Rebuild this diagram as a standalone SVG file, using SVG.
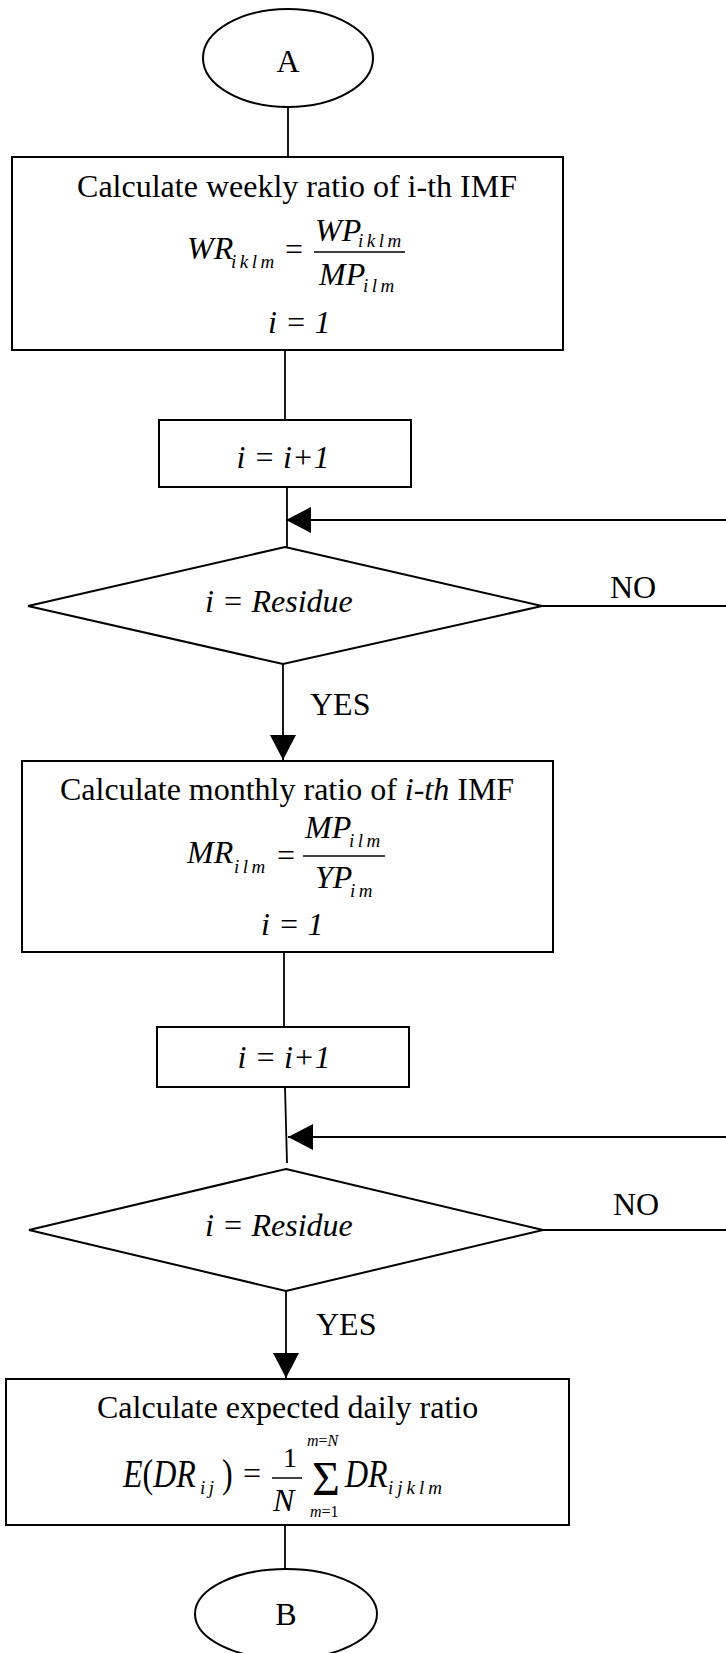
<svg xmlns="http://www.w3.org/2000/svg" width="726" height="1653" viewBox="0 0 726 1653">
<defs>
<style>
.t{font-family:"Liberation Serif","Times New Roman",serif;font-size:32px;fill:#000}
.i{font-style:italic}
.s{font-family:"Liberation Serif","Times New Roman",serif;font-size:19px;font-style:italic;letter-spacing:3.5px;fill:#000}
.ss{font-family:"Liberation Serif","Times New Roman",serif;font-size:16px;fill:#000}
.box{fill:#fff;stroke:#000;stroke-width:2}
.ln{fill:none;stroke:#000;stroke-width:1.8}
.fl{stroke:#000;stroke-width:1.5}
</style>
<marker id="ah" markerUnits="userSpaceOnUse" viewBox="0 0 25 26" refX="25" refY="13" markerWidth="25" markerHeight="26" orient="auto">
<path d="M0,0 L25,13 L0,26 Z" fill="#000"/>
</marker>
</defs>
<rect width="726" height="1653" fill="#fff"/>

<g id="connectors">
<path class="ln" d="M288,107 V157"/>
<path class="ln" d="M285,350 V420"/>
<path class="ln" d="M287,487 V547"/>
<path class="ln" d="M726,520 H286" marker-end="url(#ah)"/>
<path class="ln" d="M542,606 H726"/>
<path class="ln" d="M283,664 V760" marker-end="url(#ah)"/>
<path class="ln" d="M284,952 V1027"/>
<path class="ln" d="M285,1087 L287,1163"/>
<path class="ln" d="M726,1137 H288" marker-end="url(#ah)"/>
<path class="ln" d="M543,1230 H726"/>
<path class="ln" d="M286,1291 V1378" marker-end="url(#ah)"/>
<path class="ln" d="M285,1525 V1569"/>
<text class="t" x="610" y="598">NO</text>
<text class="t" x="310" y="715">YES</text>
<text class="t" x="613" y="1215">NO</text>
<text class="t" x="316" y="1335">YES</text>
</g>

<g id="startA">
<ellipse cx="288" cy="58" rx="85" ry="49" class="box"/>
<text class="t" x="288" y="72" text-anchor="middle">A</text>
</g>

<g id="weeklyRatio">
<rect x="12" y="157" width="551" height="193" class="box"/>
<text class="t" x="297" y="197" text-anchor="middle">Calculate weekly ratio of i-th IMF</text>
<text class="t i" x="187" y="259">WR</text>
<text class="s" x="231" y="268">iklm</text>
<text class="t" x="285" y="260">=</text>
<line class="fl" x1="314" y1="252" x2="405" y2="252"/>
<text class="t i" x="315" y="241">WP</text>
<text class="s" x="358" y="247">iklm</text>
<text class="t i" x="319" y="285">MP</text>
<text class="s" x="363" y="292">ilm</text>
<text class="t i" x="268" y="333">i = 1</text>
</g>

<g id="increment1">
<rect x="159" y="420" width="252" height="67" class="box"/>
<text class="t i" x="283" y="468" text-anchor="middle">i = i+1</text>
</g>

<g id="decision1">
<polygon points="285,547 542,606 283,664 28,606" class="box"/>
<text class="t i" x="205" y="612">i = Residue</text>
</g>

<g id="monthlyRatio">
<rect x="22" y="761" width="531" height="191" class="box"/>
<text class="t" x="60" y="800">Calculate monthly ratio of <tspan class="i">i-th</tspan> IMF</text>
<text class="t i" x="187" y="863">MR</text>
<text class="s" x="234" y="873">ilm</text>
<text class="t" x="277" y="866">=</text>
<line class="fl" x1="303" y1="856" x2="385" y2="856"/>
<text class="t i" x="305" y="838">MP</text>
<text class="s" x="349" y="847">ilm</text>
<text class="t i" x="315" y="888">YP</text>
<text class="s" x="350" y="897">im</text>
<text class="t i" x="261" y="935">i = 1</text>
</g>

<g id="increment2">
<rect x="157" y="1027" width="252" height="60" class="box"/>
<text class="t i" x="284" y="1068" text-anchor="middle">i = i+1</text>
</g>

<g id="decision2">
<polygon points="286,1169 543,1230 286,1291 29,1230" class="box"/>
<text class="t i" x="205" y="1236">i = Residue</text>
</g>

<g id="dailyRatio">
<rect x="6" y="1379" width="563" height="146" class="box"/>
<text class="t" x="97" y="1418">Calculate expected daily ratio</text>
<text class="t" transform="translate(123,1487) scale(1,1.25)"><tspan class="i">E</tspan>(<tspan class="i">DR</tspan></text>
<text class="s" x="200" y="1494">ij</text>
<text class="t" transform="translate(222,1487) scale(1,1.25)">)</text>
<text class="t" x="243" y="1484">=</text>
<text class="t" x="283" y="1467" style="font-size:28px">1</text>
<line class="fl" x1="272" y1="1478" x2="302" y2="1478"/>
<text class="t i" x="273" y="1511">N</text>
<text class="t" x="312" y="1495" style="font-size:48px">Σ</text>
<text class="ss" x="307" y="1446"><tspan class="i">m</tspan>=<tspan class="i">N</tspan></text>
<text class="ss" x="310" y="1517"><tspan class="i">m</tspan>=1</text>
<text class="t i" transform="translate(345,1487) scale(1,1.25)">DR</text>
<text class="s" x="388" y="1494" style="letter-spacing:4px">ijklm</text>
</g>

<g id="endB">
<ellipse cx="286" cy="1614" rx="91" ry="45" class="box"/>
<text class="t" x="286" y="1625" text-anchor="middle">B</text>
</g>
</svg>
